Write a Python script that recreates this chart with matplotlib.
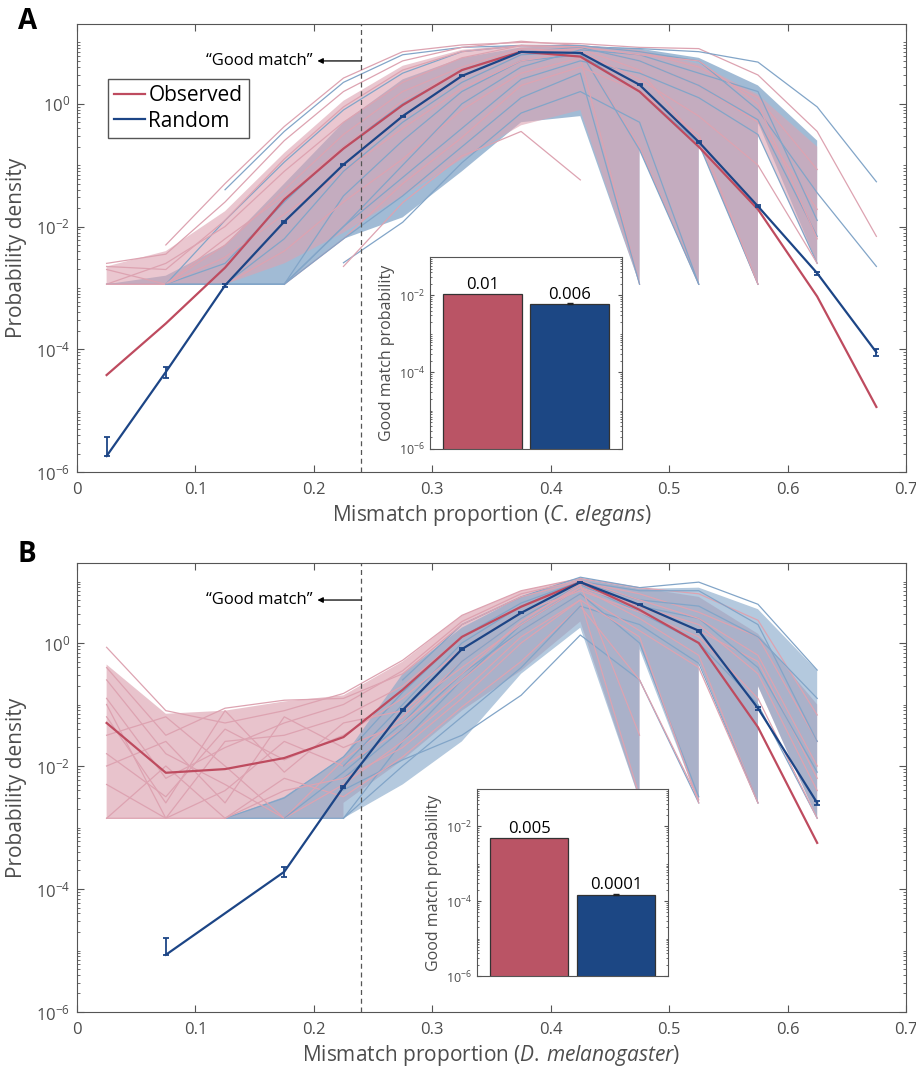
import numpy as np
import matplotlib.pyplot as plt
from matplotlib.lines import Line2D
from matplotlib.ticker import FixedLocator, LogLocator, NullFormatter

plt.rcParams["font.family"] = ["Open Sans", "DejaVu Sans"]
plt.rcParams["mathtext.fontset"] = "custom"
plt.rcParams["mathtext.rm"] = "Open Sans"
plt.rcParams["mathtext.it"] = "Open Sans:italic"
plt.rcParams["mathtext.default"] = "regular"

nan = np.nan

# ── data (y values are log10 of probability density) ──────────────
X_BINS = [0.025, 0.075, 0.125, 0.175, 0.225, 0.275, 0.325,
          0.375, 0.425, 0.475, 0.525, 0.575, 0.625, 0.675]

A_OBS_MEAN = [-4.42, -3.58, -2.67, -1.56, -0.73, -0.02, 0.55, 0.85, 0.77, 0.20, -0.70, -1.72, -3.14, -4.94]
A_RND_MEAN = [-5.74, -4.37, -2.96, -1.92, -0.99, -0.20, 0.455, 0.845, 0.83, 0.31, -0.62, -1.67, -2.76, -4.05]
A_RND_ERR_UP = [1.05, 0.22, 0.05, 0.04, 0.03, 0.02, 0.02, 0.015, 0.015, 0.02, 0.03, 0.04, 0.06, 0.13]
A_RND_ERR_DN = [0.0, 0.20, 0.05, 0.04, 0.03, 0.02, 0.02, 0.015, 0.015, 0.02, 0.03, 0.04, 0.06, 0.12]

B_OBS_MEAN = [-1.30, -2.11, -2.05, -1.87, -1.53, -0.76, 0.10, 0.59, 0.99, 0.54, 0.00, -1.37, -3.25, nan]
B_RND_MEAN = [nan, -5.07, nan, -3.72, -2.34, -1.09, -0.10, 0.49, 0.99, 0.62, 0.20, -1.06, -2.60, nan]
B_RND_ERR_UP = [nan, 0.86, nan, 0.20, 0.05, 0.04, 0.03, 0.02, 0.015, 0.02, 0.03, 0.05, 0.08, nan]
B_RND_ERR_DN = [nan, 0.0, nan, 0.17, 0.05, 0.04, 0.03, 0.02, 0.015, 0.02, 0.03, 0.05, 0.08, nan]

# envelopes of the per-genome curves: upper edge, lowest value reaching a bin, lowest value leaving it
A_OBS_HI = [-2.65, -2.40, -1.75, -0.80, 0.05, 0.62, 0.88, 0.97, 0.95, 0.88, 0.65, 0.15, -0.70, nan]
A_OBS_LO_IN = [-2.94, -2.94, -2.94, -2.60, -2.10, -1.50, -0.90, -0.35, -0.10, -2.94, -2.94, -2.94, -2.60, nan]
A_OBS_LO_OUT = [-2.94, -2.94, -2.94, -2.60, -2.10, -1.50, -0.90, -0.35, -0.10, -0.70, -0.60, -0.50, nan, nan]
A_RND_HI = [-2.94, -2.80, -2.30, -1.30, -0.30, 0.40, 0.75, 0.92, 0.95, 0.90, 0.75, 0.30, -0.60, nan]
A_RND_LO_IN = [-2.94, -2.94, -2.94, -2.94, -2.20, -1.85, -1.10, -0.30, -0.20, -2.94, -2.94, -2.94, -2.60, nan]
A_RND_LO_OUT = [-2.94, -2.94, -2.94, -2.94, -2.20, -1.85, -1.10, -0.30, -0.20, -0.75, -0.65, -0.30, nan, nan]

B_OBS_HI = [-0.35, -1.15, -1.10, -0.95, -0.85, -0.30, 0.45, 0.85, 1.05, 0.90, 0.75, 0.15, -1.00, nan]
B_OBS_LO_IN = [-2.85, -2.85, -2.85, -2.85, -2.85, -1.90, -1.10, -0.45, 0.35, -2.55, -2.60, -2.60, -2.85, nan]
B_OBS_LO_OUT = [-2.85, -2.85, -2.85, -2.85, -2.60, -1.90, -1.10, -0.45, 0.35, 0.00, -0.30, -0.70, nan, nan]
B_RND_HI = [nan, nan, -2.85, -2.50, -1.85, -0.50, 0.25, 0.75, 1.05, 0.88, 0.90, 0.55, -0.45, nan]
B_RND_LO_IN = [nan, nan, -2.85, -2.85, -2.85, -2.30, -1.60, -0.50, 0.25, -2.55, -2.60, -2.60, -2.85, nan]
B_RND_LO_OUT = [nan, nan, -2.85, -2.85, -2.85, -2.30, -1.60, -0.50, 0.25, -0.10, -0.30, -0.70, nan, nan]

# a few individual curves (outliers and edges of the bundle)
A_OBS_CURVES = [
    [nan, -2.30, -1.30, -0.37, 0.42, 0.85, 0.96, 1.00, 0.98, 0.92, 0.90, 0.47, -0.45, -2.16],
    [-2.60, -2.45, -1.60, -0.60, 0.20, 0.70, 0.92, 1.02, 0.95, 0.85, 0.60, 0.10, -1.07, nan],
    [-2.94, -2.60, -2.00, -1.10, -0.30, 0.35, 0.75, 0.95, 0.92, 0.70, 0.30, -0.30, -1.72, nan],
    [-2.70, -2.94, -2.20, -1.50, -0.70, 0.05, 0.55, 0.85, 0.90, 0.55, -0.60, -2.94, nan, nan],
    [nan, -2.94, -2.50, -1.80, -1.10, -0.40, 0.25, 0.70, 0.85, -0.70, -2.94, nan, nan, nan],
    [-2.94, -2.94, -2.94, -2.40, -1.60, -0.90, -0.10, 0.50, 0.75, -2.94, nan, nan, nan, nan],
    [nan, nan, nan, nan, -2.65, -1.61, -0.85, -0.45, -1.24, nan, nan, nan, nan, nan],
    [nan, nan, nan, -2.94, -2.20, -1.30, -0.55, 0.30, 0.60, 0.20, -0.50, -2.94, nan, nan],
    [-2.94, -2.94, -2.30, -1.40, -0.50, 0.20, 0.60, 0.90, 0.85, 0.40, -0.20, -1.00, -2.60, nan],
    [-2.65, -2.70, -1.90, -0.90, -0.05, 0.55, 0.85, 0.95, 0.93, 0.80, 0.70, 0.00, -2.20, nan],
]
A_RND_CURVES = [
    [nan, nan, -1.40, -0.45, 0.35, 0.80, 0.92, 0.95, 0.93, 0.90, 0.85, 0.68, -0.05, -1.27],
    [nan, -2.94, -1.90, -0.95, -0.10, 0.50, 0.85, 0.95, 0.95, 0.85, 0.70, -0.10, -1.45, -2.65],
    [-2.94, -2.94, -2.60, -1.60, -0.70, 0.00, 0.55, 0.85, 0.92, 0.70, 0.30, -0.26, -2.16, nan],
    [nan, -2.94, -2.94, -2.94, -1.50, -0.60, 0.20, 0.70, 0.80, 0.20, -0.65, -2.94, nan, nan],
    [nan, nan, nan, nan, -2.59, -1.93, -0.96, -0.15, 0.20, -0.30, -2.94, nan, nan, nan],
    [nan, nan, -2.94, -2.20, -1.10, -0.30, 0.35, 0.80, 0.85, -0.75, -2.94, nan, nan, nan],
    [nan, nan, nan, -2.94, -2.00, -1.20, -0.40, 0.40, 0.70, 0.50, 0.10, -0.50, -2.60, nan],
    [nan, -2.94, -2.94, -2.94, -2.20, -1.50, -0.70, 0.10, 0.50, -2.94, nan, nan, nan, nan],
    [nan, -2.94, -2.94, -2.94, -2.00, -1.00, 0.00, 0.60, 0.88, 0.80, 0.50, 0.20, -1.90, nan],
]
B_OBS_CURVES = [
    [-0.07, -1.10, -1.30, -1.10, -0.82, -0.28, 0.45, 0.85, 1.05, 0.90, 0.80, 0.37, -1.17, nan],
    [-0.40, -1.50, -1.06, -0.93, -0.90, -0.50, 0.30, 0.75, 1.00, 0.80, 0.50, 0.10, -1.60, nan],
    [-1.00, -2.85, -1.60, -1.50, -1.20, -0.70, 0.10, 0.60, 0.95, 0.60, 0.20, -0.30, -2.20, nan],
    [-1.50, -1.20, -2.00, -2.85, -1.90, -1.20, -0.30, 0.40, 0.90, 0.40, -0.20, -2.60, nan, nan],
    [-2.85, -2.00, -2.85, -2.20, -2.50, -1.85, -1.04, -0.30, 0.60, -0.60, -2.55, nan, nan, nan],
    [-2.30, -2.85, -2.40, -1.60, -2.00, -1.40, -0.60, 0.20, 0.80, 0.20, -0.40, -2.60, nan, nan],
    [-0.60, -1.80, -2.30, -2.85, -2.30, -1.60, -0.80, 0.10, 0.70, -2.50, nan, nan, nan, nan],
    [-1.80, -2.50, -1.40, -1.90, -1.50, -0.90, -0.10, 0.50, 0.85, 0.50, 0.10, -0.90, -2.85, nan],
    [-0.90, -2.20, -1.70, -1.30, -1.00, -0.45, 0.35, 0.80, 1.02, 0.70, 0.40, -0.20, -2.00, nan],
    [-2.85, -2.85, -2.85, -2.40, -2.20, -1.70, -0.90, 0.00, 0.70, 0.10, -2.60, nan, nan, nan],
    [-1.20, -2.60, -1.10, -2.10, -1.30, -1.10, -0.40, 0.30, 0.90, 0.60, 0.30, -0.50, -2.40, nan],
    [-2.00, -1.60, -2.60, -1.20, -1.70, -1.30, -0.50, 0.35, 0.95, -1.50, nan, nan, nan, nan],
]
B_RND_CURVES = [
    [nan, nan, nan, nan, nan, -0.60, 0.30, 0.75, 1.07, 0.90, 0.99, 0.63, -0.44, nan],
    [nan, nan, -2.85, -2.52, -1.85, -0.80, 0.10, 0.65, 1.00, 0.85, 0.85, 0.30, -1.60, nan],
    [nan, nan, -2.85, -2.85, -2.85, -1.60, -0.60, 0.30, 0.90, 0.60, 0.40, -0.40, -2.10, nan],
    [nan, nan, nan, nan, -2.39, -1.90, -1.50, -0.85, 0.13, -0.60, -2.60, nan, nan, nan],
    [nan, nan, nan, nan, -2.85, -2.00, -1.20, -0.40, 0.60, 0.30, -0.33, -2.60, nan, nan],
    [nan, nan, nan, nan, -2.00, -1.00, 0.00, 0.60, 1.00, 0.70, 0.60, 0.10, -0.90, nan],
    [nan, nan, nan, -2.85, -2.10, -1.30, -0.30, 0.40, 0.95, 0.50, 0.00, -1.00, -2.85, nan],
    [nan, nan, nan, nan, -2.20, -1.40, -0.50, 0.20, 0.80, 0.00, -2.50, nan, nan, nan],
]

# inset: good-match probability (observed, random)
A_GOOD = [0.011, 0.006]
B_GOOD = [0.0049, 0.00015]
A_GOOD_LABELS = ["0.01", "0.006"]
B_GOOD_LABELS = ["0.005", "0.0001"]
GOOD_CUTOFF = 0.24

PINK = "#DDA3B1"
LBLUE = "#82A5C8"
RED = "#BE4B5F"
DBLUE = "#1C4586"
BAR_RED = "#BA5465"
BAR_BLUE = "#1C4784"
GREY = "#4D4D4D"


def band(hi, lo_in, lo_out):
    x = np.array(X_BINS)
    hi = np.array(hi)
    idx = np.where(~np.isnan(hi))[0]
    bx, by = [], []
    for k, i in enumerate(idx):
        bx.append(x[i])
        by.append(lo_in[i])
        if k < len(idx) - 1:
            bx.append(x[i])
            by.append(lo_out[i])
    xs = list(x[idx]) + bx[::-1]
    ys = list(hi[idx]) + by[::-1]
    return xs, 10 ** np.array(ys)


def style_axes(ax, fs=12):
    for s in ax.spines.values():
        s.set_color("#555555")
        s.set_linewidth(0.8)
    ax.tick_params(which="both", direction="in", top=True, right=True,
                   colors="#555555", labelcolor=GREY, labelsize=fs)
    ax.tick_params(which="major", length=5)
    ax.tick_params(which="minor", length=2.5)


def draw_panel(ax, obs_mean, rnd_mean, err_up, err_dn, bands, curves, blue_on_top, xlabel_species):
    x = np.array(X_BINS)
    (ohi, olin, olout), (rhi, rlin, rlout) = bands
    obs_curves, rnd_curves = curves
    pxs, pys = band(ohi, olin, olout)
    bxs, bys = band(rhi, rlin, rlout)
    if blue_on_top:
        ax.fill(pxs, pys, color=PINK, alpha=0.65, lw=0)
        ax.fill(bxs, bys, color=LBLUE, alpha=0.6, lw=0)
    else:
        ax.fill(bxs, bys, color=LBLUE, alpha=0.75, lw=0)
        ax.fill(pxs, pys, color=PINK, alpha=0.6, lw=0)
    for k in range(max(len(obs_curves), len(rnd_curves))):
        for group, col in ((obs_curves, PINK), (rnd_curves, LBLUE)):
            if k < len(group):
                y = np.array(group[k])
                ok = ~np.isnan(y)
                ax.plot(x[ok], 10 ** y[ok], color=col, lw=0.9)

    y = np.array(obs_mean)
    ok = ~np.isnan(y)
    ax.plot(x[ok], 10 ** y[ok], color=RED, lw=1.6)

    y = np.array(rnd_mean)
    ok = ~np.isnan(y)
    yy = 10 ** y[ok]
    yerr = [yy * np.array(err_dn)[ok], yy * np.array(err_up)[ok]]
    ax.errorbar(x[ok], yy, yerr=yerr, color=DBLUE, lw=1.6, elinewidth=1.3,
                capsize=2.5, capthick=1.3)

    ax.axvline(GOOD_CUTOFF, color="#555555", ls=(0, (4, 3)), lw=0.9)
    ax.annotate("", xy=(0.203, 5.0), xytext=(GOOD_CUTOFF, 5.0),
                arrowprops=dict(arrowstyle="-|>", color="k", lw=0.9,
                                shrinkA=0, shrinkB=0, mutation_scale=8))
    ax.text(0.199, 5.0, "\u201cGood match\u201d", ha="right", va="center", fontsize=12)

    ax.set_yscale("log")
    ax.set_xlim(0, 0.7)
    ax.set_ylim(1e-6, 20)
    ax.xaxis.set_major_locator(FixedLocator(np.arange(0, 0.71, 0.1)))
    ax.set_xticklabels(["0", "0.1", "0.2", "0.3", "0.4", "0.5", "0.6", "0.7"])
    ax.yaxis.set_major_locator(FixedLocator([1e-6, 1e-4, 1e-2, 1e0]))
    ax.set_yticklabels([r"$10^{-6}$", r"$10^{-4}$", r"$10^{-2}$", r"$10^{0}$"])
    ax.yaxis.set_minor_locator(LogLocator(base=10, subs=np.arange(1, 10), numticks=40))
    ax.yaxis.set_minor_formatter(NullFormatter())
    style_axes(ax, 12)
    ax.tick_params(axis="x", pad=7)
    ax.tick_params(axis="y", pad=5)
    ax.set_ylabel("Probability density", fontsize=15, color=GREY)
    ax.yaxis.set_label_coords(-0.06, 0.5)
    ax.set_xlabel("Mismatch proportion (" + xlabel_species + ")", fontsize=15, color=GREY)
    ax.xaxis.set_label_coords(0.5, -0.07)


def draw_inset(ax, vals, labels):
    ax.bar([1, 2], vals, width=0.9, color=[BAR_RED, BAR_BLUE],
           edgecolor="#333333", lw=0.9, bottom=1e-7)
    ax.errorbar([2], [vals[1]], yerr=[[vals[1] * 0.03], [vals[1] * 0.03]],
                fmt="none", ecolor="#222222", elinewidth=1.0, capsize=2.5)
    for xi, v, lab in zip([1, 2], vals, labels):
        ax.text(xi, v * 1.08, lab, ha="center", va="bottom", fontsize=12)
    ax.set_yscale("log")
    ax.set_xlim(0.4, 2.6)
    ax.set_ylim(1e-6, 1e-1)
    ax.set_xticks([])
    ax.yaxis.set_major_locator(FixedLocator([1e-6, 1e-4, 1e-2]))
    ax.set_yticklabels([r"$10^{-6}$", r"$10^{-4}$", r"$10^{-2}$"])
    ax.yaxis.set_minor_locator(LogLocator(base=10, subs=np.arange(1, 10), numticks=40))
    ax.yaxis.set_minor_formatter(NullFormatter())
    style_axes(ax, 9)
    ax.tick_params(which="major", length=3)
    ax.tick_params(which="minor", length=1.5)
    ax.set_ylabel("Good match probability", fontsize=11.5, color=GREY, labelpad=3)


W, H = 916, 1069
fig = plt.figure(figsize=(W / 100, H / 100), dpi=100)

axA = fig.add_axes([77 / W, 1 - 472 / H, 829 / W, 448 / H])
draw_panel(axA, A_OBS_MEAN, A_RND_MEAN, A_RND_ERR_UP, A_RND_ERR_DN,
           ((A_OBS_HI, A_OBS_LO_IN, A_OBS_LO_OUT), (A_RND_HI, A_RND_LO_IN, A_RND_LO_OUT)),
           (A_OBS_CURVES, A_RND_CURVES), False, r"$\it{C.\,elegans}$")
axA.legend(handles=[Line2D([], [], color=RED, lw=1.6), Line2D([], [], color=DBLUE, lw=1.6)],
           labels=["Observed", "Random"], loc="upper left", bbox_to_anchor=(0.037, 0.877),
           borderaxespad=0, fontsize=15, fancybox=False, framealpha=1, edgecolor="#555555",
           borderpad=0.3, handlelength=1.5, handletextpad=0.15, labelspacing=0.2)

axB = fig.add_axes([77 / W, 1 - 1012 / H, 829 / W, 449 / H])
draw_panel(axB, B_OBS_MEAN, B_RND_MEAN, B_RND_ERR_UP, B_RND_ERR_DN,
           ((B_OBS_HI, B_OBS_LO_IN, B_OBS_LO_OUT), (B_RND_HI, B_RND_LO_IN, B_RND_LO_OUT)),
           (B_OBS_CURVES, B_RND_CURVES), True, r"$\it{D.\,melanogaster}$")

insA = fig.add_axes([430 / W, 1 - 449 / H, 192 / W, 192 / H])
draw_inset(insA, A_GOOD, A_GOOD_LABELS)
insB = fig.add_axes([477 / W, 1 - 976 / H, 191 / W, 187 / H])
draw_inset(insB, B_GOOD, B_GOOD_LABELS)

fig.text(18 / W, 1 - 29 / H, "A", fontsize=20, fontweight="bold", va="baseline")
fig.text(18 / W, 1 - 562 / H, "B", fontsize=20, fontweight="bold", va="baseline")

fig.savefig("out.png", dpi=100)
